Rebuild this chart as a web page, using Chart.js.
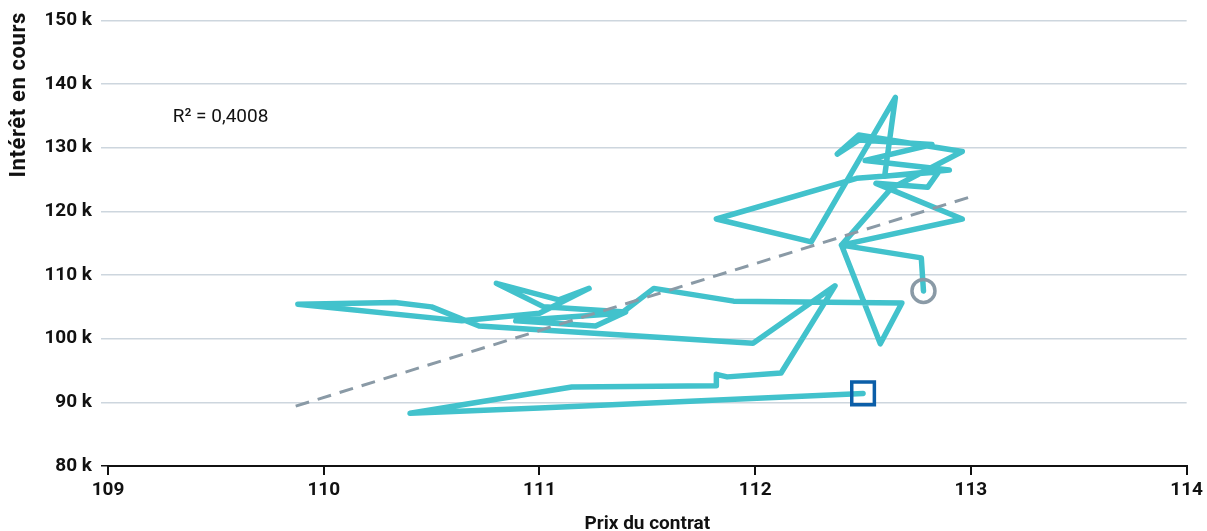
<!DOCTYPE html>
<html lang="fr">
<head>
<meta charset="utf-8">
<title>Intérêt en cours vs prix du contrat</title>
<script src="https://cdn.jsdelivr.net/npm/chart.js@4.4.1/dist/chart.umd.min.js"></script>
<style>
  html, body { margin: 0; padding: 0; background: #fff; }
  #wrap { width: 1207px; height: 531px; position: relative; }
</style>
</head>
<body>
<div id="wrap"><canvas id="chart"></canvas></div>
<script>
// Prix du contrat (x) et intérêt en cours en milliers (y), dans l'ordre du tracé
const prixContrat = [
  112.50, 111.00, 110.40, 111.15, 111.82, 111.82, 111.87, 112.12, 112.37, 111.99,
  110.72, 110.50, 110.33, 109.88, 110.64, 111.00, 111.23, 111.09, 110.80, 111.02,
  111.40, 111.26, 110.89, 111.38, 111.53, 111.90, 112.68, 112.58, 112.40, 112.96,
  112.56, 112.80, 112.85, 112.47, 111.82, 112.26, 112.65, 112.60, 112.90, 112.51,
  112.82, 112.48, 112.38, 112.48, 112.96, 112.63, 112.40, 112.77, 112.78
];
const interetEnCours = [
  91.4, 89.1, 88.3, 92.4, 92.6, 94.4, 94.0, 94.6, 108.3, 99.3,
  102.0, 105.0, 105.7, 105.4, 102.8, 104.0, 107.9, 106.1, 108.7, 105.0,
  104.2, 102.0, 102.8, 104.0, 107.9, 105.9, 105.6, 99.2, 114.7, 118.8,
  124.4, 123.8, 126.2, 125.2, 118.8, 115.2, 137.9, 125.5, 126.5, 128.0,
  130.5, 131.2, 129.0, 132.0, 129.4, 123.6, 114.7, 112.7, 107.5
];

// Droite de tendance
const tendanceX = [109.87, 112.99];
const tendanceY = [89.4, 122.2];
const r2Texte = 'R\u00B2 = 0,4008';

// Axes
const xTicks = [109, 110, 111, 112, 113, 114];
const yTicks = [80, 90, 100, 110, 120, 130, 140, 150];

const teal = '#42C2CC';
const gris = '#8A9AA6';
const bleu = '#0B5EA8';
const grille = '#CDD6DE';
const police = 'Roboto, "Noto Sans", sans-serif';

const serie = prixContrat.map((x, i) => ({ x, y: interetEnCours[i] }));
const tendance = tendanceX.map((x, i) => ({ x, y: tendanceY[i] }));
const debut = [serie[0]];
const fin = [serie[serie.length - 1]];

// texte R² et titre vertical (placé en haut comme sur l'original)
const annotPlugin = {
  id: 'annotations',
  afterDatasetsDraw(chart) {
    const { ctx, scales } = chart;
    ctx.save();
    ctx.font = '19px ' + police;
    ctx.fillStyle = '#111';
    ctx.textBaseline = 'middle';
    ctx.textAlign = 'left';
    ctx.fillText(r2Texte, scales.x.getPixelForValue(109.3), scales.y.getPixelForValue(134.8));

    ctx.translate(19, 12);
    ctx.rotate(-Math.PI / 2);
    ctx.font = 'bold 22px ' + police;
    ctx.letterSpacing = '0.6px';
    ctx.textAlign = 'right';
    ctx.fillText('Intérêt en cours', 0, 0);
    ctx.restore();
  }
};

new Chart(document.getElementById('chart'), {
  type: 'scatter',
  data: {
    datasets: [
      {
        label: 'Début',
        data: debut,
        pointStyle: 'rect',
        pointRadius: 16,
        pointBorderWidth: 3.5,
        pointBorderColor: bleu,
        pointBackgroundColor: 'rgba(0,0,0,0)',
        showLine: false
      },
      {
        label: 'Fin',
        data: fin,
        pointStyle: 'circle',
        pointRadius: 11.5,
        pointBorderWidth: 3.5,
        pointBorderColor: gris,
        pointBackgroundColor: 'rgba(0,0,0,0)',
        showLine: false
      },
      {
        label: 'Tendance',
        data: tendance,
        showLine: true,
        borderColor: gris,
        borderWidth: 3,
        borderDash: [14, 9],
        pointRadius: 0
      },
      {
        label: 'Intérêt en cours',
        data: serie,
        showLine: true,
        borderColor: teal,
        borderWidth: 5.5,
        borderJoinStyle: 'round',
        borderCapStyle: 'round',
        pointRadius: 0,
        tension: 0
      }
    ]
  },
  options: {
    responsive: true,
    maintainAspectRatio: false,
    animation: false,
    layout: { padding: { left: 0, right: 19, top: 20, bottom: 0 } },
    plugins: {
      legend: { display: false },
      tooltip: { enabled: false }
    },
    scales: {
      x: {
        type: 'linear',
        min: 109,
        max: 114,
        afterBuildTicks: (scale) => { scale.ticks = xTicks.map(v => ({ value: v })); },
        afterFit: (scale) => { scale.height = 65; },
        border: { display: true, color: '#111', width: 2 },
        grid: {
          drawOnChartArea: false,
          drawTicks: true,
          tickLength: 9,
          tickColor: '#111',
          lineWidth: 2
        },
        ticks: {
          color: '#111',
          padding: 4,
          maxRotation: 0,
          font: { family: police, size: 19, weight: 'bold' }
        },
        title: {
          display: true,
          text: 'Prix du contrat',
          color: '#111',
          padding: { top: 0, bottom: -5 },
          font: { family: police, size: 19, weight: 'bold' }
        }
      },
      y: {
        type: 'linear',
        min: 80,
        max: 150,
        afterBuildTicks: (scale) => { scale.ticks = yTicks.map(v => ({ value: v })); },
        afterFit: (scale) => { scale.width = 108; },
        border: { display: false },
        grid: {
          color: grille,
          lineWidth: 1.5,
          drawTicks: true,
          tickLength: 7,
          tickColor: (ctx) => (ctx.tick && ctx.tick.value === 80 ? '#111' : grille)
        },
        ticks: {
          color: '#111',
          padding: 9,
          font: { family: police, size: 19, weight: 'bold' },
          callback: (v) => v + ' k'
        }
      }
    }
  },
  plugins: [annotPlugin]
});
</script>
</body>
</html>
